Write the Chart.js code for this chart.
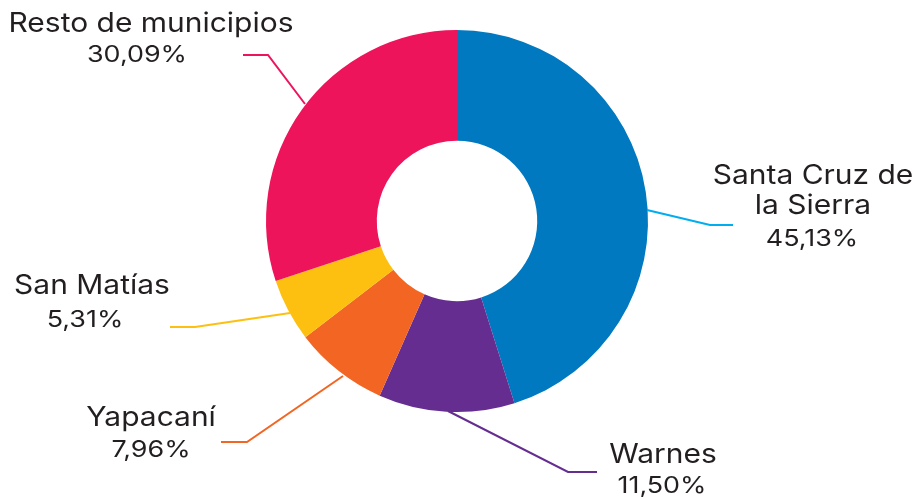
<!DOCTYPE html>
<html>
<head>
<meta charset="utf-8">
<script src="https://cdn.jsdelivr.net/npm/chart.js@4.4.1/dist/chart.umd.min.js"></script>
<style>
  html, body { margin: 0; padding: 0; background: #ffffff; }
  #wrap { width: 915px; height: 499px; position: relative; }
</style>
</head>
<body>
<div id="wrap"><canvas id="c" width="915" height="499"></canvas></div>
<script>
const categories = ["Santa Cruz de la Sierra", "Warnes", "Yapacaní", "San Matías", "Resto de municipios"];
const labelLines = [["Santa Cruz de", "la Sierra"], ["Warnes"], ["Yapacaní"], ["San Matías"], ["Resto de municipios"]];
const shares = [45.13, 11.50, 7.96, 5.31, 30.09];
const sliceColors = ["#0079C1", "#662D91", "#F26522", "#FDC010", "#ED145B"];
const leaderColors = ["#00AEEF", "#662D91", "#F26522", "#FDC010", "#ED145B"];

// Layout for annotations (label text blocks and leader lines)
const labelLayout = [
  { x: 813, baselines: [184, 214], pctX: 812, pctBase: 246, line: [[647,210],[710,225],[733,225]] },
  { x: 663, baselines: [463], pctX: 662, pctBase: 493, line: [[448,411],[568,472],[597,472]] },
  { x: 151, baselines: [426], pctX: 151, pctBase: 457, line: [[343,376],[247,442],[221,442]] },
  { x: 92,  baselines: [294], pctX: 85,  pctBase: 327, line: [[290,313],[195,327],[170,327]] },
  { x: 151, baselines: [32],  pctX: 137, pctBase: 62,  line: [[305,104],[268,55],[243,55]] }
];

const FONT = "Inter, 'Open Sans', sans-serif";

function stretchedText(ctx, text, x, y, sx) {
  ctx.save();
  ctx.translate(x, y);
  ctx.scale(sx, 1);
  ctx.fillText(text, 0, 0);
  ctx.restore();
}

const labelPlugin = {
  id: 'leaderLabels',
  afterDatasetsDraw(chart) {
    const ctx = chart.ctx;
    ctx.save();
    labelLayout.forEach((L, i) => {
      ctx.strokeStyle = leaderColors[i];
      ctx.lineWidth = 2;
      ctx.lineJoin = 'miter';
      ctx.beginPath();
      L.line.forEach((p, k) => k === 0 ? ctx.moveTo(p[0], p[1]) : ctx.lineTo(p[0], p[1]));
      ctx.stroke();

      ctx.fillStyle = "#231F20";
      ctx.textAlign = 'center';
      ctx.textBaseline = 'alphabetic';
      ctx.font = "27px " + FONT;
      labelLines[i].forEach((t, k) => stretchedText(ctx, t, L.x, L.baselines[k], 1.11));
      ctx.font = "23px " + FONT;
      stretchedText(ctx, shares[i].toFixed(2).replace('.', ',') + "%", L.pctX, L.pctBase, 1.17);
    });
    ctx.restore();
  }
};

new Chart(document.getElementById('c'), {
  type: 'doughnut',
  data: {
    labels: categories,
    datasets: [{
      data: shares,
      backgroundColor: sliceColors,
      borderWidth: 0,
      hoverOffset: 0
    }]
  },
  options: {
    responsive: false,
    animation: false,
    cutout: '42%',
    layout: { padding: { top: 30, bottom: 87, left: 266, right: 267 } },
    plugins: {
      legend: { display: false },
      tooltip: { enabled: false },
      title: { display: false }
    }
  },
  plugins: [labelPlugin]
});
</script>
</body>
</html>
